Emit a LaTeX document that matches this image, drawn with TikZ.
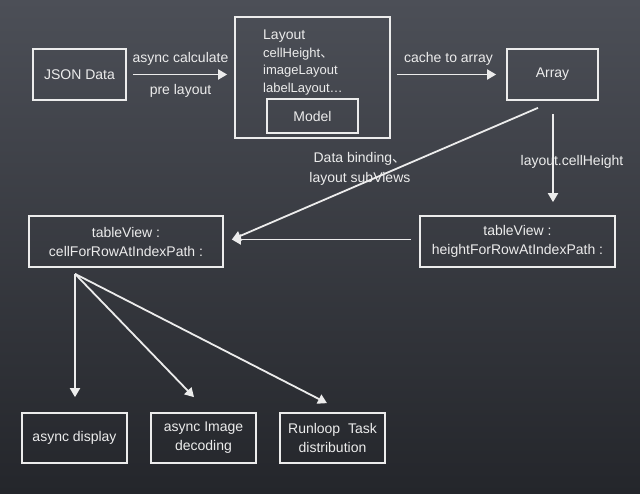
\documentclass[tikz,border=0pt]{standalone}
\usepackage{fontspec}
\setmainfont{Liberation Sans}
\newfontfamily\cjk{Noto Sans CJK SC}
\usetikzlibrary{arrows.meta}

\definecolor{chalk}{RGB}{236,236,236}
\definecolor{boardtop}{RGB}{76,79,87}
\definecolor{boardbottom}{RGB}{36,38,43}

\begin{document}
\begin{tikzpicture}[
    x=1pt,
    y=-1pt,
    chalkbox/.style={
        draw=chalk,
        line width=1.7pt,
        text=chalk,
        align=center,
        inner sep=0pt,
        font=\fontsize{14}{19}\selectfont
    },
    chalkarrow/.style={
        draw=chalk,
        line width=1.8pt,
        -{Triangle[width=10pt,length=9pt]}
    },
    notetext/.style={
        text=chalk,
        inner sep=0pt,
        font=\fontsize{14}{20}\selectfont
    }
]
    \fill [top color=boardtop,bottom color=boardbottom] (0,0) rectangle (640,493);

    \node [chalkbox,minimum width=93pt,minimum height=51pt] (json) at (79.5,74.5) {JSON Data};
    \node [chalkbox,minimum width=155pt,minimum height=121pt] (layout) at (312.5,77.5) {};
    \node [notetext,anchor=north west,align=left,font=\fontsize{13}{17.5}\selectfont] (fields) at (263,30)
        {{\fontsize{14}{17.5}\selectfont Layout}\\cellHeight{\cjk 、}\\imageLayout\\labelLayout…};
    \node [chalkbox,minimum width=91pt,minimum height=34pt] (model) at (312.5,116) {Model};
    \node [chalkbox,minimum width=91pt,minimum height=51pt] (array) at (552.5,74.5) {Array};

    \node [chalkbox,minimum width=194pt,minimum height=51pt] (cell) at (126,241.5)
        {tableView :\\cellForRowAtIndexPath :};
    \node [chalkbox,minimum width=195pt,minimum height=51pt] (height) at (517.5,241.5)
        {tableView :\\heightForRowAtIndexPath :};

    \node [chalkbox,minimum width=105pt,minimum height=50pt] (display) at (74.5,438) {async display};
    \node [chalkbox,minimum width=105pt,minimum height=50pt] (decode) at (203.5,438) {async Image\\decoding};
    \node [chalkbox,minimum width=105pt,minimum height=50pt] (runloop) at (332.5,438) {Runloop\ \ Task\\distribution};

    \coordinate (hit) at ([xshift=8pt,yshift=2pt]cell.east);
    \coordinate (bind) at ([xshift=-14.5pt,yshift=-7pt]array.south);
    \coordinate (fan) at ([xshift=-51pt,yshift=-6pt]cell.south);

    \draw [chalkarrow,shorten <=6pt,shorten >=7pt] (json.east) -- (json.east -| layout.west)
        node [notetext,midway,above=8pt] {async calculate}
        node [notetext,midway,below=8.5pt] {pre layout};
    \draw [chalkarrow,shorten <=6pt,shorten >=10pt] (array.west -| layout.east) -- (array.west)
        node [notetext,midway,above=8pt] {cache to array};
    \draw [chalkarrow,shorten <=13pt,shorten >=13pt] ([xshift=0.5pt]array.south) -- ([xshift=0.5pt]array.south |- height.north)
        node [notetext,midway,xshift=19pt,yshift=-3.5pt] {layout.cellHeight};
    \draw [chalkarrow] (bind) -- (hit)
        node [notetext,midway,xshift=-25pt,yshift=5pt,align=center] {Data binding{\cjk 、}\\layout subViews};
    \draw [chalkarrow,shorten <=8pt] (height.west |- hit) -- (hit);

    \draw [chalkarrow,shorten >=15pt] (fan) -- (fan |- display.north);
    \draw [chalkarrow] (fan) -- ([xshift=-9.5pt,yshift=15pt]decode.north);
    \draw [chalkarrow] (fan) -- ([xshift=-5.5pt,yshift=9pt]runloop.north);
\end{tikzpicture}
\end{document}
